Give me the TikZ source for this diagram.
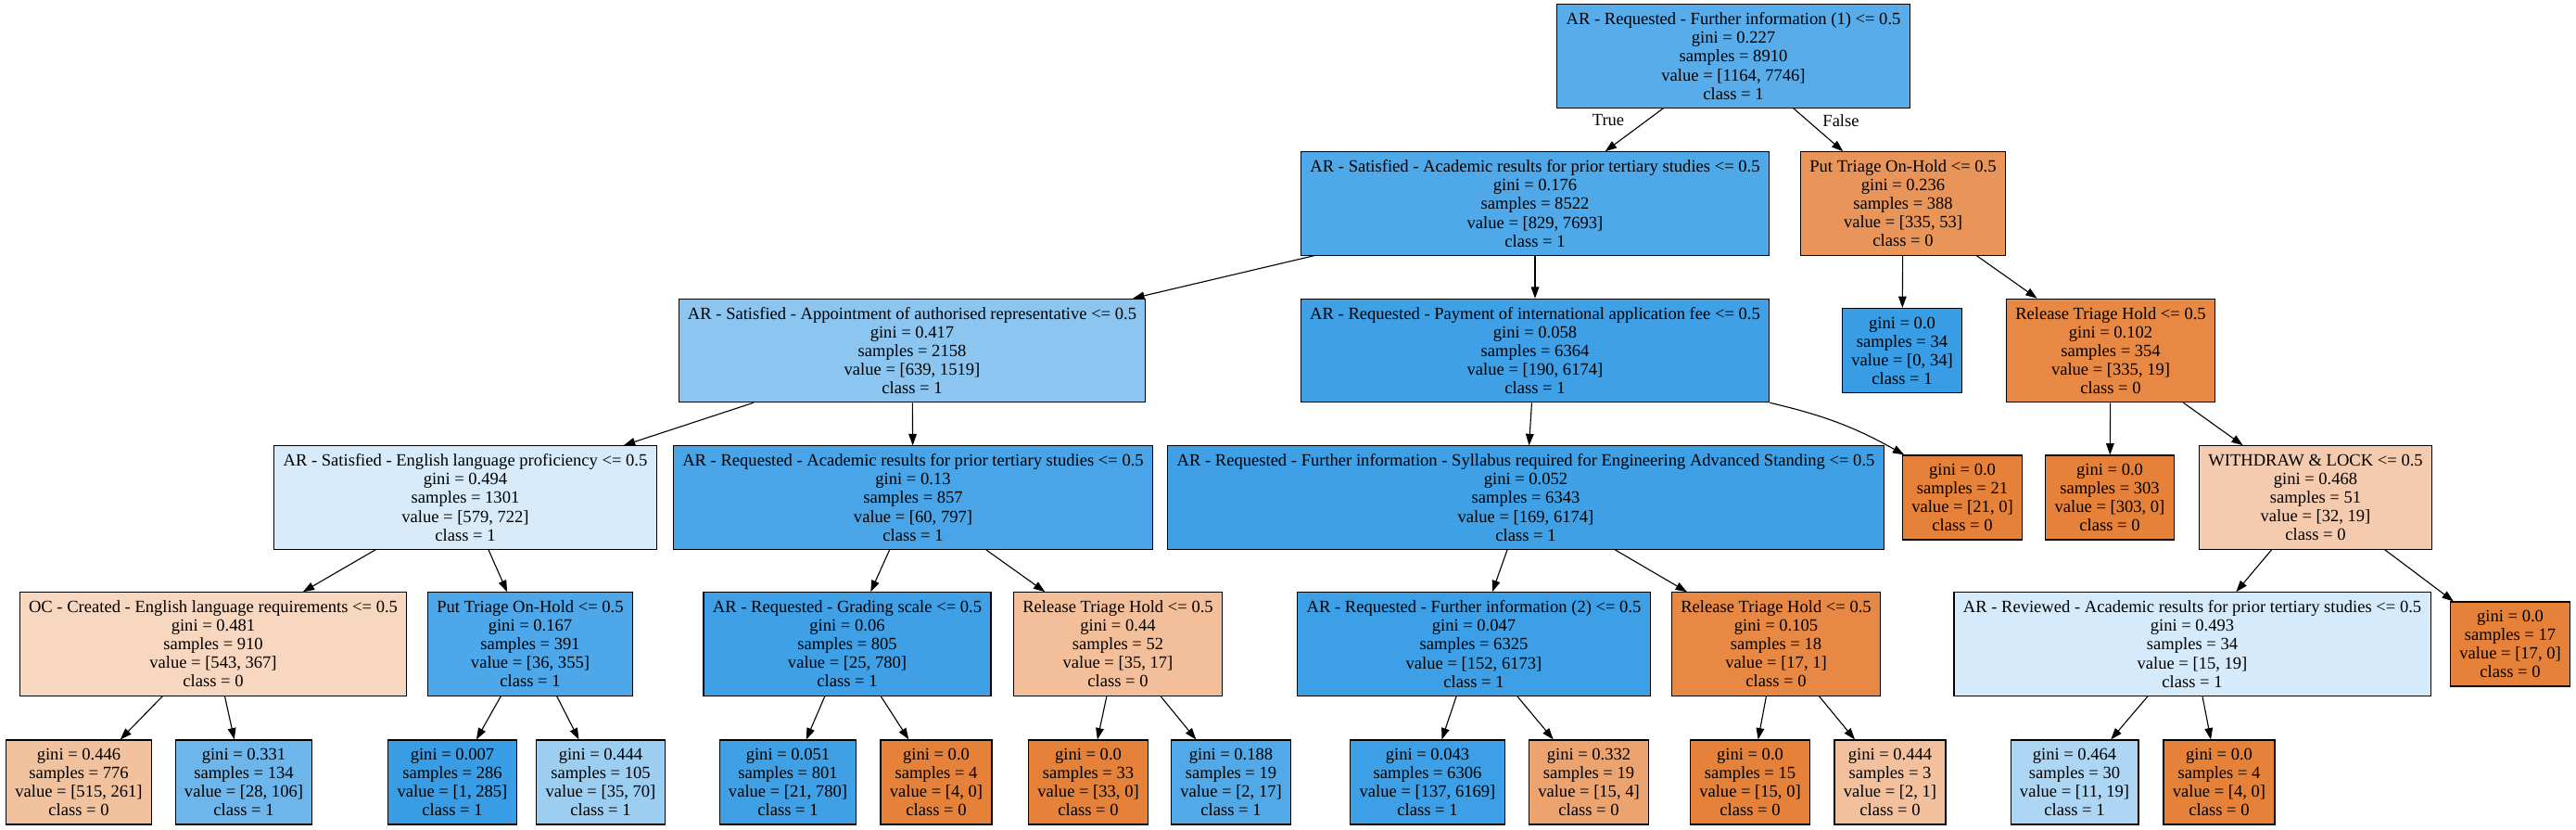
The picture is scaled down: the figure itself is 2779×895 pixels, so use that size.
\documentclass[tikz,border=0pt]{standalone}
\usepackage{fontspec}
\setmainfont{Liberation Serif}
\usetikzlibrary{arrows.meta}
\definecolor{clszero}{RGB}{229,129,57}
\definecolor{clsone}{RGB}{57,157,229}

\begin{document}
\begin{tikzpicture}[x=0.8078pt,y=-0.8078pt,
  testbox/.style={draw, line width=0.9pt, align=center, inner xsep=8pt, inner ysep=0pt,
    minimum height=90pt, font=\fontsize{15}{16.2}\selectfont},
  leafbox/.style={testbox, minimum height=73.5pt},
  link/.style={-{Triangle[length=10pt,width=7pt]}, line width=0.9pt}]
\useasboundingbox (0,0) rectangle (2779,895);

\node[testbox, fill=clsone!85!white] (root) at (1870,60.5) {AR - Requested - Further information (1) <= 0.5\\gini = 0.227\\samples = 8910\\value = [1164, 7746]\\class = 1};

\node[testbox, fill=clsone!89!white] (acadsat) at (1656,219.5) {AR - Satisfied - Academic results for prior tertiary studies <= 0.5\\gini = 0.176\\samples = 8522\\value = [829, 7693]\\class = 1};
\node[testbox, fill=clszero!84!white] (holdA) at (2053,219.5) {Put Triage On-Hold <= 0.5\\gini = 0.236\\samples = 388\\value = [335, 53]\\class = 0};

\node[testbox, fill=clsone!58!white] (appoint) at (984,378) {AR - Satisfied - Appointment of authorised representative <= 0.5\\gini = 0.417\\samples = 2158\\value = [639, 1519]\\class = 1};
\node[testbox, fill=clsone!97!white] (payfee) at (1656,378) {AR - Requested - Payment of international application fee <= 0.5\\gini = 0.058\\samples = 6364\\value = [190, 6174]\\class = 1};
\node[leafbox, fill=clsone] (leafA) at (2052,378) {gini = 0.0\\samples = 34\\value = [0, 34]\\class = 1};
\node[testbox, fill=clszero!94!white] (releaseA) at (2277,378) {Release Triage Hold <= 0.5\\gini = 0.102\\samples = 354\\value = [335, 19]\\class = 0};

\node[testbox, fill=clsone!20!white] (english) at (502,536.5) {AR - Satisfied - English language proficiency <= 0.5\\gini = 0.494\\samples = 1301\\value = [579, 722]\\class = 1};
\node[testbox, fill=clsone!92!white] (acadreq) at (985,536.5) {AR - Requested - Academic results for prior tertiary studies <= 0.5\\gini = 0.13\\samples = 857\\value = [60, 797]\\class = 1};
\node[testbox, fill=clsone!97!white] (syllabus) at (1646,536.5) {AR - Requested - Further information - Syllabus required for Engineering Advanced Standing <= 0.5\\gini = 0.052\\samples = 6343\\value = [169, 6174]\\class = 1};
\node[leafbox, fill=clszero] (leafB) at (2117,536.5) {gini = 0.0\\samples = 21\\value = [21, 0]\\class = 0};
\node[leafbox, fill=clszero] (leafC) at (2276,536.5) {gini = 0.0\\samples = 303\\value = [303, 0]\\class = 0};
\node[testbox, fill=clszero!41!white] (withdraw) at (2498,536.5) {WITHDRAW \& LOCK <= 0.5\\gini = 0.468\\samples = 51\\value = [32, 19]\\class = 0};

\node[testbox, fill=clszero!32!white] (occreated) at (230,694.5) {OC - Created - English language requirements <= 0.5\\gini = 0.481\\samples = 910\\value = [543, 367]\\class = 0};
\node[testbox, fill=clsone!90!white] (holdB) at (572,694.5) {Put Triage On-Hold <= 0.5\\gini = 0.167\\samples = 391\\value = [36, 355]\\class = 1};
\node[testbox, fill=clsone!97!white] (grading) at (914,694.5) {AR - Requested - Grading scale <= 0.5\\gini = 0.06\\samples = 805\\value = [25, 780]\\class = 1};
\node[testbox, fill=clszero!51!white] (releaseB) at (1206,694.5) {Release Triage Hold <= 0.5\\gini = 0.44\\samples = 52\\value = [35, 17]\\class = 0};
\node[testbox, fill=clsone!98!white] (further) at (1590,694.5) {AR - Requested - Further information (2) <= 0.5\\gini = 0.047\\samples = 6325\\value = [152, 6173]\\class = 1};
\node[testbox, fill=clszero!94!white] (releaseC) at (1916,694.5) {Release Triage Hold <= 0.5\\gini = 0.105\\samples = 18\\value = [17, 1]\\class = 0};
\node[testbox, fill=clsone!21!white] (reviewed) at (2365,694.5) {AR - Reviewed - Academic results for prior tertiary studies <= 0.5\\gini = 0.493\\samples = 34\\value = [15, 19]\\class = 1};
\node[leafbox, fill=clszero] (leafD) at (2708,694.5) {gini = 0.0\\samples = 17\\value = [17, 0]\\class = 0};

\node[leafbox, fill=clszero!49!white] (l1) at (85,843.5) {gini = 0.446\\samples = 776\\value = [515, 261]\\class = 0};
\node[leafbox, fill=clsone!74!white] (l2) at (263,843.5) {gini = 0.331\\samples = 134\\value = [28, 106]\\class = 1};
\node[leafbox, fill=clsone] (l3) at (488,843.5) {gini = 0.007\\samples = 286\\value = [1, 285]\\class = 1};
\node[leafbox, fill=clsone!50!white] (l4) at (648,843.5) {gini = 0.444\\samples = 105\\value = [35, 70]\\class = 1};
\node[leafbox, fill=clsone!97!white] (l5) at (850,843.5) {gini = 0.051\\samples = 801\\value = [21, 780]\\class = 1};
\node[leafbox, fill=clszero] (l6) at (1010,843.5) {gini = 0.0\\samples = 4\\value = [4, 0]\\class = 0};
\node[leafbox, fill=clszero] (l7) at (1174,843.5) {gini = 0.0\\samples = 33\\value = [33, 0]\\class = 0};
\node[leafbox, fill=clsone!88!white] (l8) at (1328,843.5) {gini = 0.188\\samples = 19\\value = [2, 17]\\class = 1};
\node[leafbox, fill=clsone!98!white] (l9) at (1540,843.5) {gini = 0.043\\samples = 6306\\value = [137, 6169]\\class = 1};
\node[leafbox, fill=clszero!73!white] (l10) at (1714,843.5) {gini = 0.332\\samples = 19\\value = [15, 4]\\class = 0};
\node[leafbox, fill=clszero] (l11) at (1888,843.5) {gini = 0.0\\samples = 15\\value = [15, 0]\\class = 0};
\node[leafbox, fill=clszero!50!white] (l12) at (2039,843.5) {gini = 0.444\\samples = 3\\value = [2, 1]\\class = 0};
\node[leafbox, fill=clsone!42!white] (l13) at (2238,843.5) {gini = 0.464\\samples = 30\\value = [11, 19]\\class = 1};
\node[leafbox, fill=clszero] (l14) at (2394,843.5) {gini = 0.0\\samples = 4\\value = [4, 0]\\class = 0};

\foreach \a/\b in {root/acadsat, root/holdA, acadsat/appoint, acadsat/payfee, holdA/leafA, holdA/releaseA,
  appoint/english, appoint/acadreq, payfee/syllabus, releaseA/leafC, releaseA/withdraw,
  english/occreated, english/holdB, acadreq/grading, acadreq/releaseB, syllabus/further, syllabus/releaseC,
  withdraw/reviewed, withdraw/leafD, occreated/l1, occreated/l2, holdB/l3, holdB/l4, grading/l5, grading/l6,
  releaseB/l7, releaseB/l8, further/l9, further/l10, releaseC/l11, releaseC/l12, reviewed/l13, reviewed/l14}
  {\draw[link] (\a) -- (\b);}
\draw[link] (payfee.south east) to[bend left=8] ([xshift=2pt]leafB.north west);

\node[font=\fontsize{15}{16.2}\selectfont] (truelbl) at (1735,130) {True};
\node[font=\fontsize{15}{16.2}\selectfont] (falselbl) at (1986,130) {False};
\end{tikzpicture}
\end{document}
